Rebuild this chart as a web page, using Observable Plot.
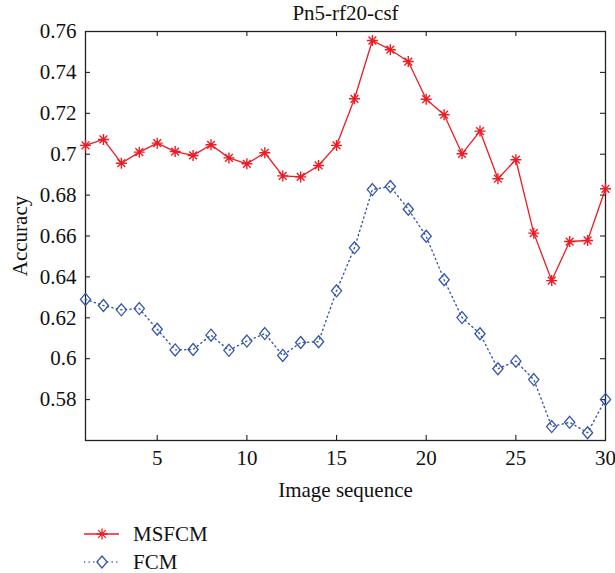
<!DOCTYPE html>
<html>
<head>
<meta charset="utf-8">
<script src="https://cdn.jsdelivr.net/npm/d3@7"></script>
<script src="https://cdn.jsdelivr.net/npm/@observablehq/plot@0.6"></script>
<style>
  body { margin: 0; background: #fff; }
  #chart { width: 615px; }
</style>
</head>
<body>
<div id="chart"></div>
<script>
const title = "Pn5-rf20-csf";
const xLabel = "Image sequence";
const yLabel = "Accuracy";
const seriesNames = ["MSFCM", "FCM"];
const imageIdx = d3.range(1, 31);
const msfcm = [0.7043, 0.7072, 0.6956, 0.7010, 0.7054, 0.7013, 0.6994, 0.7046, 0.6982, 0.6953,
               0.7007, 0.6894, 0.6889, 0.6945, 0.7043, 0.7271, 0.7556, 0.7511, 0.7453, 0.7269,
               0.7193, 0.7002, 0.7113, 0.6880, 0.6973, 0.6614, 0.6382, 0.6573, 0.6578, 0.6831];
const fcm = [0.6290, 0.6260, 0.6239, 0.6245, 0.6144, 0.6043, 0.6045, 0.6115, 0.6041, 0.6086,
             0.6123, 0.6016, 0.6079, 0.6083, 0.6332, 0.6542, 0.6827, 0.6842, 0.6731, 0.6599,
             0.6386, 0.6201, 0.6122, 0.5951, 0.5988, 0.5898, 0.5668, 0.5689, 0.5638, 0.5801];
const xTicks = [5, 10, 15, 20, 25, 30];
const yTicks = [0.58, 0.60, 0.62, 0.64, 0.66, 0.68, 0.70, 0.72, 0.74, 0.76];

const RED = "#ec1c24";
const BLUE = "#3556a8";
const FONT = "'Liberation Serif', 'DejaVu Serif', serif";
const FS = 21;

const starSymbol = {
  draw(ctx, size) {
    const r = Math.sqrt(size / Math.PI);
    const d = r * Math.SQRT1_2;
    ctx.moveTo(-r, 0); ctx.lineTo(r, 0);
    ctx.moveTo(0, -r); ctx.lineTo(0, r);
    ctx.moveTo(-d, -d); ctx.lineTo(d, d);
    ctx.moveTo(-d, d); ctx.lineTo(d, -d);
  }
};
const diamondSymbol = {
  draw(ctx, size) {
    const r = Math.sqrt(size / Math.PI);
    const w = r * 0.85;
    ctx.moveTo(0, -r); ctx.lineTo(w, 0); ctx.lineTo(0, r); ctx.lineTo(-w, 0); ctx.closePath();
  }
};

const rows = [];
imageIdx.forEach((x, i) => {
  rows.push({series: seriesNames[0], x, y: msfcm[i]});
  rows.push({series: seriesNames[1], x, y: fcm[i]});
});
const msRows = rows.filter(d => d.series === "MSFCM");
const fcRows = rows.filter(d => d.series === "FCM");

const W = 615, mL = 85, mR = 10, mT = 31, mB = 65, H = 505;
const frameW = W - mL - mR, frameH = H - mT - mB;
const tickLen = 5;
const fmt = d => String(+d.toFixed(2));

const plot = Plot.plot({
  width: W, height: H,
  marginLeft: mL, marginRight: mR, marginTop: mT, marginBottom: mB,
  style: {fontFamily: FONT, fontSize: FS + "px", color: "#222", background: "#fff"},
  x: {domain: [1, 30]},
  y: {domain: [0.56, 0.76]},
  marks: [
    Plot.frame({stroke: "#222", strokeWidth: 1.3}),
    Plot.tickY(yTicks.slice(0, -1), {y: d => d, insetRight: frameW - tickLen, stroke: "#222", strokeWidth: 1.1}),
    Plot.tickY(yTicks.slice(0, -1), {y: d => d, insetLeft: frameW - tickLen, stroke: "#222", strokeWidth: 1.1}),
    Plot.tickX(xTicks.slice(0, -1), {x: d => d, insetTop: frameH - tickLen, stroke: "#222", strokeWidth: 1.1}),
    Plot.tickX(xTicks.slice(0, -1), {x: d => d, insetBottom: frameH - tickLen, stroke: "#222", strokeWidth: 1.1}),
    Plot.axisY(yTicks, {tickSize: 0, tickPadding: 9, tickFormat: fmt, label: null, fontSize: FS, fill: "#111"}),
    Plot.axisX(xTicks, {tickSize: 0, tickPadding: 10, tickFormat: d => String(d), label: null, fontSize: FS, fill: "#111"}),
    Plot.line(fcRows, {x: "x", y: "y", stroke: BLUE, strokeWidth: 1.4, strokeDasharray: "1.2,3.4"}),
    Plot.dot(fcRows, {x: "x", y: "y", symbol: diamondSymbol, r: 6, stroke: BLUE, fill: "none", strokeWidth: 1.3}),
    Plot.line(msRows, {x: "x", y: "y", stroke: RED, strokeWidth: 1.3}),
    Plot.dot(msRows, {x: "x", y: "y", symbol: starSymbol, r: 5.5, stroke: RED, fill: "none", strokeWidth: 1.4}),
    Plot.text([title], {frameAnchor: "top", dy: -18, text: d => d, fontSize: FS, textAnchor: "middle", lineAnchor: "middle", fill: "#111"}),
    Plot.text([xLabel], {frameAnchor: "bottom", dy: 50, text: d => d, fontSize: FS, textAnchor: "middle", lineAnchor: "middle", fill: "#111"}),
    Plot.text([yLabel], {frameAnchor: "left", dx: -65, rotate: -90, text: d => d, fontSize: FS, textAnchor: "middle", lineAnchor: "middle", fill: "#111"})
  ]
});
document.getElementById("chart").appendChild(plot);

const legendH = 68;
const leg = d3.select("#chart").append("svg")
  .attr("width", W).attr("height", legendH)
  .style("display", "block")
  .style("font-family", FONT).style("font-size", FS + "px");
const items = [
  {name: seriesNames[0], color: RED, dash: null, sym: starSymbol, r: 5.5, y: 29},
  {name: seriesNames[1], color: BLUE, dash: "1.2,3.4", sym: diamondSymbol, r: 6, y: 57}
];
items.forEach(it => {
  const g = leg.append("g");
  g.append("line").attr("x1", 84).attr("x2", 119).attr("y1", it.y).attr("y2", it.y)
    .attr("stroke", it.color).attr("stroke-width", 1.4)
    .attr("stroke-dasharray", it.dash);
  g.append("path").attr("transform", `translate(102,${it.y})`)
    .attr("d", d3.symbol(it.sym, it.r * it.r * Math.PI)())
    .attr("stroke", it.color).attr("fill", "#fff").attr("stroke-width", 1.3);
  g.append("text").attr("x", 133).attr("y", it.y).attr("dy", "0.35em")
    .attr("fill", "#111").text(it.name);
});
</script>
</body>
</html>
